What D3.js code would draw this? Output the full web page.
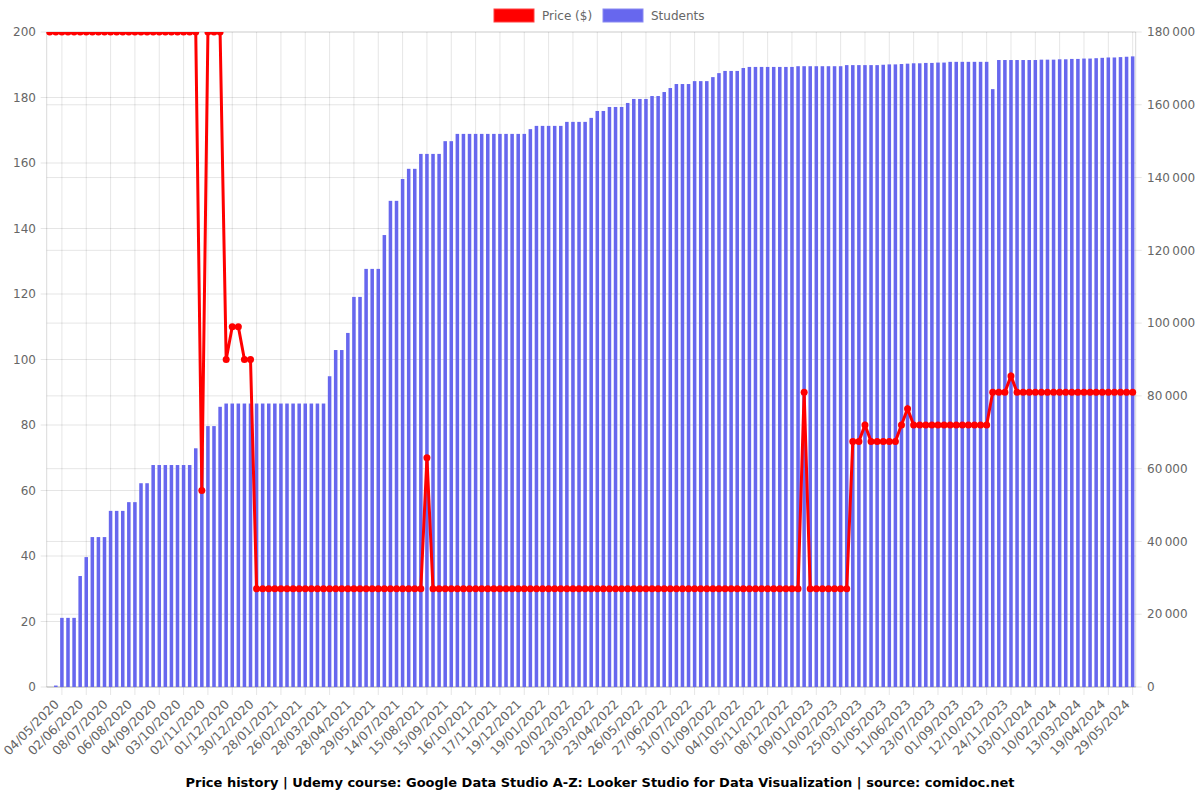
<!DOCTYPE html>
<html><head><meta charset="utf-8">
<script src="https://cdn.jsdelivr.net/npm/d3@7"></script>
<style>body{margin:0;background:#fff;}svg{display:block;font-family:"DejaVu Sans",sans-serif;}</style>
</head><body><svg id="c" width="1200" height="800"></svg>
<script>
const tickLabels = ["04/05/2020","02/06/2020","08/07/2020","06/08/2020","04/09/2020","03/10/2020","02/11/2020","01/12/2020","30/12/2020","28/01/2021","26/02/2021","28/03/2021","28/04/2021","29/05/2021","14/07/2021","15/08/2021","15/09/2021","16/10/2021","17/11/2021","19/12/2021","19/01/2022","20/02/2022","23/03/2022","23/04/2022","26/05/2022","27/06/2022","31/07/2022","01/09/2022","04/10/2022","05/11/2022","08/12/2022","09/01/2023","10/02/2023","25/03/2023","01/05/2023","11/06/2023","23/07/2023","01/09/2023","12/10/2023","24/11/2023","03/01/2024","10/02/2024","13/03/2024","19/04/2024","29/05/2024"];
const categories = d3.range(179).map(i => i % 4 === 0 ? tickLabels[i/4] : "");

const price = [
200,200,200,200,200,200,200,200,200,200,
200,200,200,200,200,200,200,200,200,200,
200,200,200,200,200,60,200,200,200,100,
110,110,100,100,30,30,30,30,30,30,
30,30,30,30,30,30,30,30,30,30,
30,30,30,30,30,30,30,30,30,30,
30,30,70,30,30,30,30,30,30,30,
30,30,30,30,30,30,30,30,30,30,
30,30,30,30,30,30,30,30,30,30,
30,30,30,30,30,30,30,30,30,30,
30,30,30,30,30,30,30,30,30,30,
30,30,30,30,30,30,30,30,30,30,
30,30,30,30,90,30,30,30,30,30,
30,30,75,75,80,75,75,75,75,75,
80,85,80,80,80,80,80,80,80,80,
80,80,80,80,80,90,90,90,95,90,
90,90,90,90,90,90,90,90,90,90,
90,90,90,90,90,90,90,90,90
];

const students = [
0,400,19000,19000,19000,30500,35700,41200,41200,41200,
48400,48400,48400,50800,50800,56000,56000,61000,61000,61000,
61000,61000,61000,61000,65600,65600,71700,71700,77000,77900,
77900,77900,77900,77900,77900,77900,77900,77900,77900,77900,
77900,77900,77900,77900,77900,77900,85400,92600,92600,97300,
107200,107200,114900,114900,114900,124200,133600,133600,139600,142400,
142400,146500,146500,146500,146500,150000,150000,152000,152000,152000,
152000,152000,152000,152000,152000,152000,152000,152000,152000,153300,
154200,154200,154200,154200,154200,155300,155300,155300,155300,156400,
158300,158300,159400,159400,159400,160500,161600,161600,161600,162400,
162400,163500,164600,165700,165700,165700,166500,166500,166500,167600,
168700,169300,169300,169300,170100,170400,170400,170400,170400,170400,
170400,170400,170400,170600,170600,170600,170600,170600,170600,170600,
170600,170900,170900,170900,170900,170900,170900,171000,171100,171100,
171200,171300,171400,171400,171500,171500,171600,171600,171800,171800,
171800,171800,171800,171800,171800,164300,172300,172300,172300,172300,
172300,172300,172300,172400,172400,172400,172500,172500,172600,172600,
172700,172700,172800,172900,173000,173000,173100,173200,173300
];

const priceTicks = d3.range(0, 201, 20);
const studentTicks = d3.range(0, 180001, 20000);
const legendItems = [{name:"Price ($)", color:"#ff0000"},{name:"Students", color:"#6767ee"}];
const titleText = "Price history | Udemy course: Google Data Studio A-Z: Looker Studio for Data Visualization | source: comidoc.net";

const L = 46.7, R = 1135.7, T = 32, B = 687;
const svg = d3.select("#c");
const idx = d3.range(categories.length);
const x = d3.scaleBand().domain(idx).range([L, R]).padding(0);
const xb = d3.scaleBand().domain(idx).range([L, R]).paddingInner(0.42).paddingOuter(0.21);
const yL = d3.scaleLinear().domain([0, 200]).range([B, T]);
const yR = d3.scaleLinear().domain([0, 180000]).range([B, T]);
const cx = i => x(i) + x.bandwidth()/2;
const grid = "rgba(0,0,0,0.1)";
const fmt = v => d3.format(",")(v).replace(/,/g, "\u202F");

svg.append("g").selectAll("line").data(priceTicks).join("line")
  .attr("x1", L - 6).attr("x2", R).attr("y1", d => yL(d)).attr("y2", d => yL(d))
  .attr("stroke", grid).attr("stroke-width", 1);
svg.append("g").selectAll("line").data(studentTicks).join("line")
  .attr("x1", L).attr("x2", R + 6).attr("y1", d => yR(d)).attr("y2", d => yR(d))
  .attr("stroke", grid).attr("stroke-width", 1);
const vIdx = idx.filter(i => i % 4 === 2);
svg.append("g").selectAll("line").data(vIdx).join("line")
  .attr("x1", d => cx(d)).attr("x2", d => cx(d)).attr("y1", T).attr("y2", B + 8)
  .attr("stroke", grid);
svg.append("line").attr("x1", L).attr("x2", L).attr("y1", T).attr("y2", B).attr("stroke", "rgba(0,0,0,0.15)");
svg.append("line").attr("x1", R).attr("x2", R).attr("y1", T).attr("y2", B).attr("stroke", "rgba(0,0,0,0.15)");
svg.append("line").attr("x1", L).attr("x2", R).attr("y1", B).attr("y2", B).attr("stroke", "rgba(0,0,0,0.15)");

svg.append("clipPath").attr("id","clip").append("rect").attr("x", L - 4).attr("y", T).attr("width", R - L + 8).attr("height", B - T + 4);

svg.append("g").selectAll("rect").data(students).join("rect")
  .attr("x", (d,i) => xb(i)).attr("width", xb.bandwidth())
  .attr("y", d => yR(d)).attr("height", d => B - yR(d))
  .attr("fill", "#6767ee");

const lineG = svg.append("g").attr("clip-path", "url(#clip)");
lineG.append("path").datum(price)
  .attr("d", d3.line().x((d,i) => cx(i)).y(d => yL(d)))
  .attr("fill", "none").attr("stroke", "#ff0000").attr("stroke-width", 3).attr("stroke-linejoin", "miter");
lineG.selectAll("circle").data(price).join("circle")
  .attr("cx", (d,i) => cx(i)).attr("cy", d => yL(d)).attr("r", 3.5).attr("fill", "#ff0000");

svg.append("g").selectAll("text").data(priceTicks).join("text")
  .attr("x", 36).attr("y", d => yL(d)).attr("dy", "0.35em").attr("text-anchor", "end")
  .attr("font-size", 12).attr("fill", "#666").text(d => d);
svg.append("g").selectAll("text").data(studentTicks).join("text")
  .attr("x", 1147).attr("y", d => yR(d)).attr("dy", "0.35em").attr("text-anchor", "start")
  .attr("font-size", 12).attr("fill", "#666").text(d => fmt(d));
svg.append("g").selectAll("text").data(idx.filter(i => categories[i] !== "")).join("text")
  .attr("transform", d => `translate(${cx(d) + 7},${B + 15}) rotate(-45)`)
  .attr("text-anchor", "end").attr("dy", "0.35em")
  .attr("font-size", 12.5).attr("fill", "#666").text(d => categories[d]);

const lg = svg.append("g");
const lx = [494, 603];
legendItems.forEach((it, k) => {
  lg.append("rect").attr("x", lx[k]).attr("y", 9).attr("width", 40).attr("height", 13)
    .attr("fill", it.color).attr("stroke", k === 0 ? "#ff4040" : "#8a8af2").attr("stroke-width", 1);
  lg.append("text").attr("x", lx[k] + 48).attr("y", 16).attr("dy", "0.35em")
    .attr("font-size", 12).attr("fill", "#666").text(it.name);
});

svg.append("text").attr("x", 600).attr("y", 787).attr("text-anchor", "middle")
  .attr("font-size", 13).attr("font-weight", "bold").attr("fill", "#000").text(titleText);
</script></body></html>
